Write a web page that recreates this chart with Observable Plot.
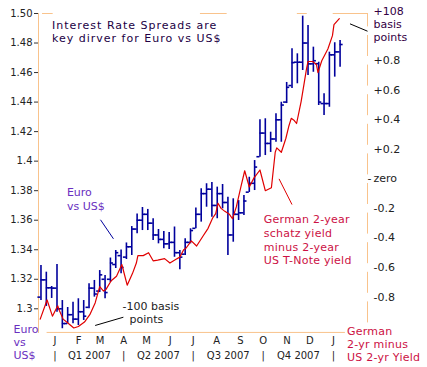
<!DOCTYPE html>
<html><head><meta charset="utf-8">
<script src="https://cdn.jsdelivr.net/npm/d3@7"></script>
<script src="https://cdn.jsdelivr.net/npm/@observablehq/plot@0.6"></script>
<style>body{margin:0;background:#fff}#chart svg{display:block}
g[fill="#220044"] text{letter-spacing:1px}
g[fill="#cc1144"] text{letter-spacing:0.25px}</style>
</head><body><div id="chart"></div>
<script>
// Weekly EUR/USD bars
const barDate = ["2006-12-11","2006-12-18","2006-12-25","2007-01-01","2007-01-08","2007-01-15","2007-01-22","2007-01-29","2007-02-05","2007-02-12","2007-02-19","2007-02-26","2007-03-05","2007-03-12","2007-03-19","2007-03-26","2007-04-02","2007-04-09","2007-04-16","2007-04-23","2007-04-30","2007-05-07","2007-05-14","2007-05-21","2007-05-28","2007-06-04","2007-06-11","2007-06-18","2007-06-25","2007-07-02","2007-07-09","2007-07-16","2007-07-23","2007-07-30","2007-08-06","2007-08-13","2007-08-20","2007-08-27","2007-09-03","2007-09-10","2007-09-17","2007-09-24","2007-10-01","2007-10-08","2007-10-15","2007-10-22","2007-10-29","2007-11-05","2007-11-12","2007-11-19","2007-11-26","2007-12-03","2007-12-10","2007-12-17","2007-12-24","2007-12-31","2008-01-07"];
const barOpen = [1.3079,1.3196,1.3142,1.3140,1.3000,1.2900,1.2960,1.2930,1.2980,1.3010,1.3140,1.3120,1.3200,1.3200,1.3300,1.3360,1.3350,1.3420,1.3540,1.3600,1.3640,1.3580,1.3500,1.3470,1.3440,1.3450,1.3380,1.3370,1.3450,1.3545,1.3640,1.3780,1.3810,1.3700,1.3780,1.3720,1.3500,1.3640,1.3650,1.3790,1.3850,1.4030,1.4190,1.4120,1.4150,1.4280,1.4400,1.4512,1.4670,1.4670,1.4800,1.4659,1.4660,1.4390,1.4390,1.4720,1.4740];
const barHigh = [1.3293,1.3248,1.3151,1.3300,1.3056,1.3009,1.3045,1.3068,1.3056,1.3169,1.3192,1.3259,1.3226,1.3344,1.3395,1.3398,1.3446,1.3557,1.3642,1.3686,1.3673,1.3610,1.3537,1.3524,1.3517,1.3554,1.3395,1.3474,1.3542,1.3683,1.3813,1.3847,1.3855,1.3824,1.3842,1.3756,1.3745,1.3733,1.3767,1.3891,1.4004,1.4280,1.4287,1.4196,1.4321,1.4399,1.4533,1.4761,1.4727,1.4982,1.4919,1.4772,1.4670,1.4456,1.4738,1.4802,1.4817];
const barLow = [1.3056,1.3016,1.3070,1.2977,1.2865,1.2898,1.2898,1.2887,1.2921,1.3000,1.3079,1.3110,1.3068,1.3178,1.3273,1.3237,1.3334,1.3361,1.3508,1.3530,1.3530,1.3463,1.3440,1.3406,1.3402,1.3349,1.3264,1.3361,1.3440,1.3542,1.3587,1.3688,1.3620,1.3610,1.3677,1.3361,1.3451,1.3598,1.3632,1.3788,1.3801,1.4027,1.4038,1.4059,1.4128,1.4128,1.4390,1.4492,1.4524,1.4614,1.4580,1.4602,1.4377,1.4309,1.4365,1.4569,1.4636];
const barClose = [1.3196,1.3142,1.3140,1.3000,1.2900,1.2960,1.2930,1.2980,1.2950,1.3140,1.3100,1.3230,1.3110,1.3310,1.3380,1.3280,1.3420,1.3540,1.3600,1.3640,1.3580,1.3500,1.3470,1.3440,1.3450,1.3380,1.3350,1.3450,1.3530,1.3640,1.3780,1.3810,1.3700,1.3780,1.3720,1.3500,1.3640,1.3650,1.3730,1.3850,1.3960,1.4190,1.4120,1.4150,1.4280,1.4380,1.4500,1.4667,1.4670,1.4800,1.4659,1.4680,1.4400,1.4390,1.4720,1.4740,1.4790];

// German 2-yr minus US 2-yr yield spread (percentage points)
const spreadDate = ["2006-12-10","2006-12-19","2006-12-26","2007-01-02","2007-01-04","2007-01-09","2007-01-16","2007-01-23","2007-01-29","2007-02-06","2007-02-13","2007-02-20","2007-02-26","2007-03-03","2007-03-06","2007-03-13","2007-03-20","2007-03-27","2007-04-03","2007-04-10","2007-04-15","2007-04-17","2007-04-24","2007-05-01","2007-05-07","2007-05-13","2007-05-22","2007-05-29","2007-06-06","2007-06-11","2007-06-16","2007-06-19","2007-06-26","2007-07-03","2007-07-11","2007-07-18","2007-07-24","2007-07-28","2007-07-31","2007-08-04","2007-08-09","2007-08-15","2007-08-19","2007-08-24","2007-08-30","2007-09-04","2007-09-10","2007-09-16","2007-09-24","2007-10-01","2007-10-09","2007-10-14","2007-10-16","2007-10-22","2007-10-28","2007-11-01","2007-11-04","2007-11-08","2007-11-11","2007-11-17","2007-11-21","2007-11-24","2007-11-26","2007-12-02","2007-12-07","2007-12-09","2007-12-14","2007-12-22","2007-12-28","2007-12-30","2008-01-06"];
const spreadValue = [-0.95,-0.82,-0.93,-0.86,-0.89,-0.95,-0.98,-1.01,-1.00,-0.97,-0.92,-0.84,-0.73,-0.76,-0.75,-0.69,-0.66,-0.58,-0.72,-0.64,-0.57,-0.52,-0.52,-0.50,-0.555,-0.55,-0.54,-0.57,-0.545,-0.53,-0.48,-0.47,-0.42,-0.455,-0.39,-0.335,-0.265,-0.235,-0.165,-0.20,-0.22,-0.24,-0.27,-0.19,-0.055,0.055,-0.055,0.005,0.06,-0.08,-0.06,0.18,0.21,0.18,0.275,0.36,0.41,0.395,0.375,0.525,0.65,0.745,0.795,0.795,0.775,0.72,0.80,0.88,0.97,1.045,1.085];

const leftTicks = [1.3,1.32,1.34,1.36,1.38,1.4,1.42,1.44,1.46,1.48,1.5];
const leftTickLabels = ["1.3","1.32","1.34","1.36","1.38","1.4","1.42","1.44","1.46","1.48","1.50"];
const rightTicks = [0.8,0.6,0.4,0.2,0,-0.2,-0.4,-0.6,-0.8];
const rightTickLabels = ["+0.8","+0.6","+0.4","+0.2","zero","-0.2","-0.4","-0.6","-0.8"];
const monthStarts = ["2007-01-01","2007-02-01","2007-03-01","2007-04-01","2007-05-01","2007-06-01","2007-07-01","2007-08-01","2007-09-01","2007-10-01","2007-11-01","2007-12-01","2008-01-01"];
const monthLetters = ["J","F","M","A","M","J","J","A","S","O","N","D","J"];
const quarterBounds = ["2007-01-01","2007-04-01","2007-07-01","2007-10-01","2008-01-01"];
const quarterLabels = ["Q1 2007","Q2 2007","Q3 2007","Q4 2007"];

const parse = d3.utcParse("%Y-%m-%d");
const bars = barDate.map((d,i)=>({date: parse(d), open: barOpen[i], high: barHigh[i], low: barLow[i], close: barClose[i]}));
const spread = spreadDate.map((d,i)=>({date: parse(d), s: spreadValue[i]}));
const spreadToPrice = s => 1.388 + 0.1*s;   // secondary axis mapping
const qMid = quarterLabels.map((q,i)=>({label:q, date: new Date((parse(quarterBounds[i]).getTime()+parse(quarterBounds[i+1]).getTime())/2)}));

const orange = "#f9c38c", blue = "#00009c", red = "#e00000";
const topSegs = [["2006-12-13","2006-12-27"],["2007-07-08","2007-08-12"],["2007-11-12","2007-11-25"],["2007-12-29","2008-02-12"]].map(([a,b])=>({a:parse(a),b:parse(b)}));
const leaders = [
  {x1:"2007-02-27",y1:1.3603,x2:"2007-03-16",y2:1.3474,c:blue},
  {x1:"2007-02-20",y1:1.2887,x2:"2007-03-29",y2:1.2943,c:"#000"},
  {x1:"2007-10-19",y1:1.3880,x2:"2007-11-05",y2:1.3706,c:red},
  {x1:"2008-01-20",y1:1.4930,x2:"2008-02-12",y2:1.4880,c:"#000"}
].map(d=>({...d,x1:parse(d.x1),x2:parse(d.x2)}));

const chart = Plot.plot({
  width: 427, height: 367,
  marginTop: 13, marginRight: 60, marginBottom: 35, marginLeft: 38,
  style: {fontFamily: "DejaVu Sans", fontSize: "10px", background: "#fff", color: "#222"},
  x: {type: "utc", domain: [parse("2007-01-01"), parse("2008-01-01")], range: [56.5, 335], axis: null},
  y: {domain: [1.3, 1.5], range: [308.3, 13], axis: null},
  marks: [
    Plot.ruleY(topSegs, {y: () => 1.5, x1: "a", x2: "b", stroke: orange}),
    Plot.frame({anchor: "left", stroke: orange}),
    Plot.frame({anchor: "right", stroke: orange, strokeDasharray: "20,9.6", strokeDashoffset: 7.6}),
    Plot.ruleY([1.284], {x1: () => parse("2006-12-19"), x2: () => parse("2008-01-14"), stroke: orange}),
    Plot.axisY({ticks: leftTicks, tickFormat: d => leftTickLabels[leftTicks.indexOf(d)], anchor: "left", tickSize: 4, tickPadding: 2, label: null, stroke: "#333", fill: "#222", fontSize: 10}),
    Plot.ruleX(bars, {x: "date", y1: "low", y2: "high", stroke: blue, strokeWidth: 1.6}),
    Plot.ruleY(bars, {y: "open", x1: d => d3.utcDay.offset(d.date, -4), x2: "date", stroke: blue, strokeWidth: 1.6}),
    Plot.ruleY(bars, {y: "close", x1: "date", x2: d => d3.utcDay.offset(d.date, 4), stroke: blue, strokeWidth: 1.6}),
    Plot.line(spread, {x: "date", y: d => spreadToPrice(d.s), stroke: red, strokeWidth: 1.2}),
    Plot.link(leaders, {x1: "x1", y1: "y1", x2: "x2", y2: "y2", stroke: "c", strokeWidth: 1}),
    Plot.text(rightTicks, {y: d => spreadToPrice(d), text: (d,i) => rightTickLabels[i], frameAnchor: "right", textAnchor: "start", dx: 6, fontSize: 11, fill: "#222"}),
    Plot.text(["-"], {y: () => spreadToPrice(0), frameAnchor: "right", textAnchor: "start", dx: 0, fontSize: 11, fill: "#222"}),
    Plot.text(["+108\nbasis\npoints"], {frameAnchor: "top-right", textAnchor: "start", lineAnchor: "top", dx: 6, dy: -7, fontSize: 11, lineHeight: 1.15, fill: "#330044"}),
    Plot.text(monthStarts, {x: d => parse(d), text: (d,i) => monthLetters[i], frameAnchor: "bottom", lineAnchor: "top", dy: 4, dx: -2, fill: "#222"}),
    Plot.text(qMid, {x: "date", text: "label", frameAnchor: "bottom", lineAnchor: "top", dy: 19, dx: -2, fill: "#222"}),
    Plot.text(quarterBounds, {x: d => parse(d), text: () => "|", frameAnchor: "bottom", lineAnchor: "top", dy: 19, dx: -2, fill: "#222"}),
    Plot.text(["Interest Rate Spreads are\nkey dirver for Euro vs US$"], {frameAnchor: "top-left", textAnchor: "start", lineAnchor: "top", dx: 13.5, dy: 7, fontSize: 11, lineHeight: 1.12, fill: "#220044"}),
    Plot.text(["Euro\nvs US$"], {x: () => parse("2007-01-14"), y: () => 1.383, textAnchor: "start", lineAnchor: "top", fontSize: 11, lineHeight: 1.24, fill: "#6a2fc0"}),
    Plot.text(["German 2-year\nschatz yield\nminus 2-year\nUS T-Note yield"], {x: () => parse("2007-09-29"), y: () => 1.3645, textAnchor: "start", lineAnchor: "top", fontSize: 11, lineHeight: 1.24, fill: "#cc1144"}),
    Plot.text(["-100 basis"], {x: () => parse("2007-03-28"), y: () => 1.3043, textAnchor: "start", lineAnchor: "top", fontSize: 11, fill: "#222"}),
    Plot.text(["points"], {x: () => parse("2007-04-06"), y: () => 1.2955, textAnchor: "start", lineAnchor: "top", fontSize: 11, fill: "#222"}),
    Plot.text(["Euro\nvs\nUS$"], {frameAnchor: "bottom-left", textAnchor: "start", lineAnchor: "top", dx: -25, dy: -9, fontSize: 11, lineHeight: 1.18, fill: "#6a2fc0"}),
    Plot.text(["German\n2-yr minus\nUS 2-yr Yield"], {frameAnchor: "bottom-right", textAnchor: "start", lineAnchor: "top", dx: -20.5, dy: -7, fontSize: 11, lineHeight: 1.18, fill: "#cc1144"})
  ]
});
document.getElementById("chart").appendChild(chart);
</script>
</body></html>
